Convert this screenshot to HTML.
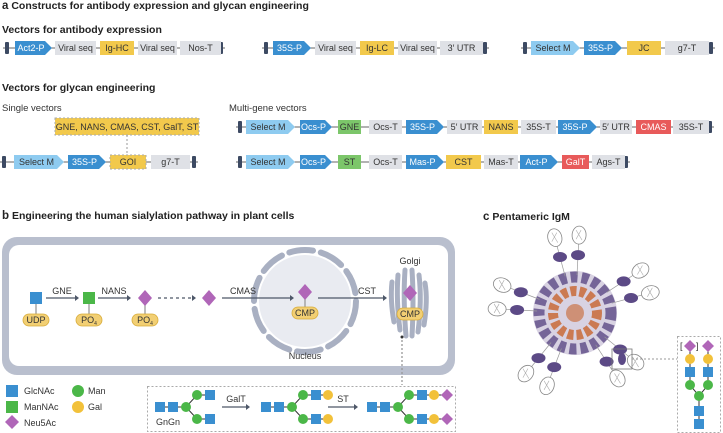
<!DOCTYPE html>
<html><head><meta charset="utf-8"><style>
html,body{margin:0;padding:0;background:#fff;}
svg{display:block;font-family:"Liberation Sans",sans-serif;}
.t{font-size:9px;fill:#333;}
.h{font-size:10.5px;font-weight:bold;fill:#222;}
.s{font-size:9.5px;fill:#333;}
</style></head><body>
<svg id="fig" width="723" height="433" viewBox="0 0 723 433">
<g id="pa">
<text x="2" y="9" class="h"><tspan font-size="11.5">a</tspan> Constructs for antibody expression and glycan engineering</text>
<text x="2" y="33" class="h">Vectors for antibody expression</text>
<text x="2" y="91" class="h">Vectors for glycan engineering</text>
<text x="2" y="111" class="s">Single vectors</text>
<text x="229" y="111" class="s">Multi-gene vectors</text>
<rect x="55" y="118" width="144" height="17" fill="#f2c94c" stroke="#aaa" stroke-dasharray="2,2"/>
<text x="127" y="130" class="t" text-anchor="middle">GNE, NANS, CMAS, CST, GalT, ST</text>
<line x1="127" y1="135" x2="127" y2="153" stroke="#999" stroke-dasharray="2,2"/>
</g>
<g id="constructs"></g>
<g id="pb">
<text x="2" y="219" class="h"><tspan font-size="11.5">b</tspan> Engineering the human sialylation pathway in plant cells</text>
<rect x="2" y="237" width="453" height="138" rx="15" fill="#b9bfce"/>
<rect x="9" y="245" width="439" height="121" rx="10" fill="#fff"/>
<circle cx="305" cy="301" r="46" fill="#e9ebf1"/>
<circle cx="305" cy="301" r="51" fill="none" stroke="#a9b0c2" stroke-width="6" stroke-dasharray="24,8" stroke-linecap="round"/>
<text x="305" y="359" class="t" text-anchor="middle">Nucleus</text>
<g stroke="#a9b0c2" stroke-width="5" fill="none" stroke-linecap="round">
<path d="M398 275 Q396 300 400 330"/><path d="M405 270 Q403 300 406 336"/><path d="M412 270 Q414 300 412 336"/><path d="M419 275 Q422 300 418 332"/><path d="M392 282 Q390 300 394 322"/><path d="M425 283 Q428 300 424 325"/>
</g>
<text x="410" y="264" class="t" text-anchor="middle">Golgi</text>
<g fill="none" stroke="#4d5768" stroke-width="1.3">
<line x1="46" y1="298" x2="75" y2="298"/><line x1="98" y1="298" x2="127" y2="298"/><line x1="158" y1="298" x2="192" y2="298" stroke-dasharray="3,3"/><line x1="222" y1="298" x2="290" y2="298"/><line x1="318" y1="298" x2="383" y2="298"/>
<path d="M75 295 L79 298 L75 301Z M127 295 L131 298 L127 301Z M192 295 L196 298 L192 301Z M290 295 L294 298 L290 301Z M383 295 L387 298 L383 301Z" fill="#4d5768" stroke="none"/>
<line x1="36" y1="304" x2="36" y2="316" stroke="#999"/><line x1="89" y1="304" x2="89" y2="316" stroke="#999"/><line x1="145" y1="304" x2="145" y2="316" stroke="#999"/><line x1="305" y1="298" x2="305" y2="308" stroke="#999"/>
<line x1="402" y1="336" x2="402" y2="385" stroke="#999" stroke-dasharray="2,2"/>
</g>
<circle cx="402" cy="337" r="1.5" fill="#333"/>
<text x="62" y="294" class="t" text-anchor="middle">GNE</text><text x="114" y="294" class="t" text-anchor="middle">NANS</text><text x="243" y="294" class="t" text-anchor="middle">CMAS</text><text x="367" y="294" class="t" text-anchor="middle">CST</text>
<rect x="30" y="292" width="12" height="12" fill="#3a8fd0"/>
<rect x="83" y="292" width="12" height="12" fill="#4bb748"/>
<path d="M145 290 L152 298 L145 306 L138 298Z" fill="#b066b8"/>
<path d="M209 290 L216 298 L209 306 L202 298Z" fill="#b066b8"/>
<path d="M305 284 L312 292 L305 300 L298 292Z" fill="#b066b8"/>
<path d="M410 285 L417 293 L410 301 L403 293Z" fill="#b066b8"/>
<g fill="#f2cf73" stroke="#d8ac3a" stroke-width="0.8">
<rect x="23" y="314" width="26" height="12" rx="6"/><rect x="76" y="314" width="26" height="12" rx="6"/><rect x="132" y="314" width="26" height="12" rx="6"/><rect x="292" y="307" width="26" height="12" rx="6"/><rect x="397" y="308" width="26" height="12" rx="6"/>
</g>
<g class="t" text-anchor="middle" font-size="8.5">
<text x="36" y="323">UDP</text><text x="89" y="323">PO<tspan font-size="5" dy="2">4</tspan></text><text x="145" y="323">PO<tspan font-size="5" dy="2">4</tspan></text><text x="305" y="316">CMP</text><text x="410" y="317">CMP</text>
</g>
<g>
<rect x="6" y="385" width="12" height="12" fill="#3a8fd0"/><text x="24" y="394" class="t">GlcNAc</text>
<rect x="6" y="401" width="12" height="12" fill="#4bb748"/><text x="24" y="410" class="t">ManNAc</text>
<path d="M12 415 L19 422 L12 429 L5 422Z" fill="#b066b8"/><text x="24" y="426" class="t">Neu5Ac</text>
<circle cx="78" cy="391" r="6" fill="#4bb748"/><text x="88" y="394" class="t">Man</text>
<circle cx="78" cy="407" r="6" fill="#f2c13a"/><text x="88" y="410" class="t">Gal</text>
</g>
<rect x="147.5" y="386.5" width="308" height="45" fill="none" stroke="#aaa" stroke-dasharray="2,2"/>
<g id="glycans"></g>
</g>
<g id="pc">
<g id="igm"></g>
<text x="483" y="220" class="h"><tspan font-size="11.5">c</tspan> Pentameric IgM</text>
<rect x="612" y="349" width="20" height="20" fill="none" stroke="#777" stroke-width="0.8"/>
<line x1="632" y1="359" x2="677" y2="359" stroke="#999" stroke-dasharray="2,2"/>
<rect x="677.5" y="336.5" width="43" height="96" fill="none" stroke="#aaa" stroke-dasharray="2,2"/>
<g>
<path d="M690 347 L690 385 L699 396 L708 385 L708 347 M699 396 L699 425" stroke="#333" stroke-width="1" fill="none"/>
<path d="M690 340 L696 346 L690 352 L684 346Z M708 340 L714 346 L708 352 L702 346Z" fill="#b066b8"/>
<text x="680" y="349" class="t" font-size="8">[</text><text x="696" y="349" class="t" font-size="8">]</text>
<circle cx="690" cy="359" r="5" fill="#f2c13a"/><circle cx="708" cy="359" r="5" fill="#f2c13a"/>
<rect x="685" y="367" width="10" height="10" fill="#3a8fd0"/><rect x="703" y="367" width="10" height="10" fill="#3a8fd0"/>
<circle cx="690" cy="385" r="5" fill="#4bb748"/><circle cx="708" cy="385" r="5" fill="#4bb748"/><circle cx="699" cy="396" r="5" fill="#4bb748"/>
<rect x="694" y="406" width="10" height="10" fill="#3a8fd0"/><rect x="694" y="419" width="10" height="10" fill="#3a8fd0"/>
</g>
</g>
</svg>
<script>
var NS='http://www.w3.org/2000/svg';
var C={P:'#3a8fd0',S:'#8ecbf0',Y:'#f2c94c',G:'#dfe1e6',N:'#7cc66a',R:'#e85a5a'};
var row1=[['Act2-P','P',15,52],['Viral seq','G',55,96],['Ig-HC','Y',100,134],['Viral seq','G',138,177],['Nos-T','G',180,221]];
var row2=[['35S-P','P',273,311],['Viral seq','G',315,356],['Ig-LC','Y',360,394],['Viral seq','G',398,437],['3\u2032 UTR','G',440,483]];
var row3=[['Select M','S',531,580],['35S-P','P',584,622],['JC','Y',627,661],['g7-T','G',665,709]];
var row4=[['Select M','S',14,64],['35S-P','P',68,106],['GOI','Y',110,146],['g7-T','G',151,190]];
var row5=[['Select M','S',246,295],['Ocs-P','P',300,332],['GNE','N',338,361],['Ocs-T','G',369,402],['35S-P','P',406,444],['5\u2032 UTR','G',447,482],['NANS','Y',484,518],['35S-T','G',521,556],['35S-P','P',558,597],['5\u2032 UTR','G',600,632],['CMAS','R',636,671],['35S-T','G',673,709]];
var row6=[['Select M','S',246,295],['Ocs-P','P',300,332],['ST','N',338,361],['Ocs-T','G',369,402],['Mas-P','P',406,444],['CST','Y',446,481],['Mas-T','G',484,518],['Act-P','P',520,558],['GalT','R',562,589],['Ags-T','G',592,625]];
var rows=[[row1,48,3,225],[row2,48,262,489],[row3,48,521,715],[row4,162,0,198],[row5,127,236,714],[row6,162,236,630]];
var cg=document.getElementById('constructs');
function mk(t,a,p){var e=document.createElementNS(NS,t);for(var k in a)e.setAttribute(k,a[k]);p.appendChild(e);return e;}
rows.forEach(function(r,ri){
  var cy=r[1];
  var g=mk('g',{},cg);
  
  
  mk('line',{x1:r[2],y1:cy,x2:r[3],y2:cy,stroke:'#666','stroke-width':1},g);
  [r[2]+4,r[3]-4].forEach(function(bx){var b=mk('rect',{x:bx-2,y:cy-6,width:4,height:12,rx:1,fill:'#3d4a63'},g);
    
    });
  r[0].forEach(function(p){
    var x1=p[2],x2=p[3],h=14,y=cy-7,el;
    if(p[1]=='P'||p[1]=='S'){el=mk('polygon',{points:x1+','+y+' '+(x2-7)+','+y+' '+x2+','+cy+' '+(x2-7)+','+(y+h)+' '+x1+','+(y+h),fill:C[p[1]]},g);}
    else{el=mk('rect',{x:x1,y:y,width:x2-x1,height:h,fill:C[p[1]]},g);
      if(p[0]=='GOI'){el.setAttribute('stroke','#aaa');el.setAttribute('stroke-dasharray','2,2');}}
    
    
    var tc=(p[1]=='P'||p[1]=='R')?'#fff':'#333';
    var cx=(p[1]=='P'||p[1]=='S')?(x1+x2-5)/2:(x1+x2)/2;
    var t=mk('text',{x:cx,y:cy+3.2,'text-anchor':'middle','font-size':'9',fill:tc},g);t.textContent=p[0];
  });
});
var gg=document.getElementById('glycans');
var glycanStarts=[160,266,372];
var arms=[[],['Gal'],['Gal','Sia']];
function glycan(x0,ext,cy){
  var g=mk('g',{},gg);
  
  
  var cx=x0+26;
  var len=50+ext.length*12;
  mk('path',{d:'M'+(x0)+' '+cy+' L'+cx+' '+cy+' L'+(cx+11)+' '+(cy-12)+' L'+(x0+len)+' '+(cy-12)+' M'+cx+' '+cy+' L'+(cx+11)+' '+(cy+12)+' L'+(x0+len)+' '+(cy+12),stroke:'#333',fill:'none','stroke-width':1},g);
  mk('rect',{x:x0-5,y:cy-5,width:10,height:10,fill:'#3a8fd0'},g);
  mk('rect',{x:x0+8,y:cy-5,width:10,height:10,fill:'#3a8fd0'},g);
  mk('circle',{cx:cx,cy:cy,r:5,fill:'#4bb748'},g);
  [-12,12].forEach(function(d){
    mk('circle',{cx:cx+11,cy:cy+d,r:5,fill:'#4bb748'},g);
    mk('rect',{x:cx+19,y:cy+d-5,width:10,height:10,fill:'#3a8fd0'},g);
    ext.forEach(function(e,i){var ex=cx+36+i*13;
      if(e=='Gal')mk('circle',{cx:ex,cy:cy+d,r:5,fill:'#f2c13a'},g);
      else mk('path',{d:'M'+ex+' '+(cy+d-6)+' l6 6 l-6 6 l-6 -6z',fill:'#b066b8'},g);});
  });
}
glycanStarts.forEach(function(x,i){glycan(x,arms[i],407);});
var gn=mk('text',{x:156,y:425,'font-size':'9',fill:'#333'},gg);gn.textContent='GnGn';
[[222,250,'GalT'],[328,358,'ST']].forEach(function(a){
  mk('line',{x1:a[0],y1:407,x2:a[1]-4,y2:407,stroke:'#4d5768','stroke-width':1.2},gg);
  mk('path',{d:'M'+(a[1]-4)+' 404 L'+a[1]+' 407 L'+(a[1]-4)+' 410Z',fill:'#4d5768'},gg);
  var t=mk('text',{x:(a[0]+a[1])/2,y:402,'text-anchor':'middle','font-size':'9',fill:'#333'},gg);t.textContent=a[2];
});
var ig=document.getElementById('igm');
var cx=575,cy=313;
mk('circle',{cx:cx,cy:cy,r:42,fill:'#d8d2e2'},ig);
mk('circle',{cx:cx,cy:cy,r:36,fill:'none',stroke:'#5c4a86','stroke-width':11,'stroke-dasharray':'7,4',opacity:0.8},ig);
mk('circle',{cx:cx,cy:cy,r:22,fill:'none',stroke:'#c8642e','stroke-width':10,'stroke-dasharray':'6,3',opacity:0.8},ig);
mk('circle',{cx:cx,cy:cy,r:9,fill:'#c8642e',opacity:0.6},ig);
for(var k=0;k<10;k++){
  var a=(k*36-78+(k%2?9:-9))*Math.PI/180;
  var mx=cx+58*Math.cos(a),my=cy+58*Math.sin(a),fx=cx+78*Math.cos(a),fy=cy+78*Math.sin(a);
  mk('line',{x1:cx+38*Math.cos(a),y1:cy+38*Math.sin(a),x2:fx,y2:fy,stroke:'#999','stroke-width':0.7},ig);
  mk('ellipse',{cx:mx,cy:my,rx:7,ry:5,fill:'#5c4a86'},ig);
  mk('ellipse',{cx:fx,cy:fy,rx:7,ry:9,fill:'#fff',stroke:'#888','stroke-width':0.8,transform:'rotate('+(a*180/Math.PI+90)+' '+fx+' '+fy+')'},ig);
  mk('path',{d:'M'+(fx-3)+' '+(fy-5)+' L'+(fx+3)+' '+(fy+5)+' M'+(fx+2)+' '+(fy-5)+' L'+(fx-3)+' '+(fy+4),stroke:'#aaa','stroke-width':0.6,fill:'none'},ig);
}
mk('ellipse',{cx:622,cy:359,rx:4,ry:6,fill:'#5c4a86'},ig);
</script>
</body></html>
